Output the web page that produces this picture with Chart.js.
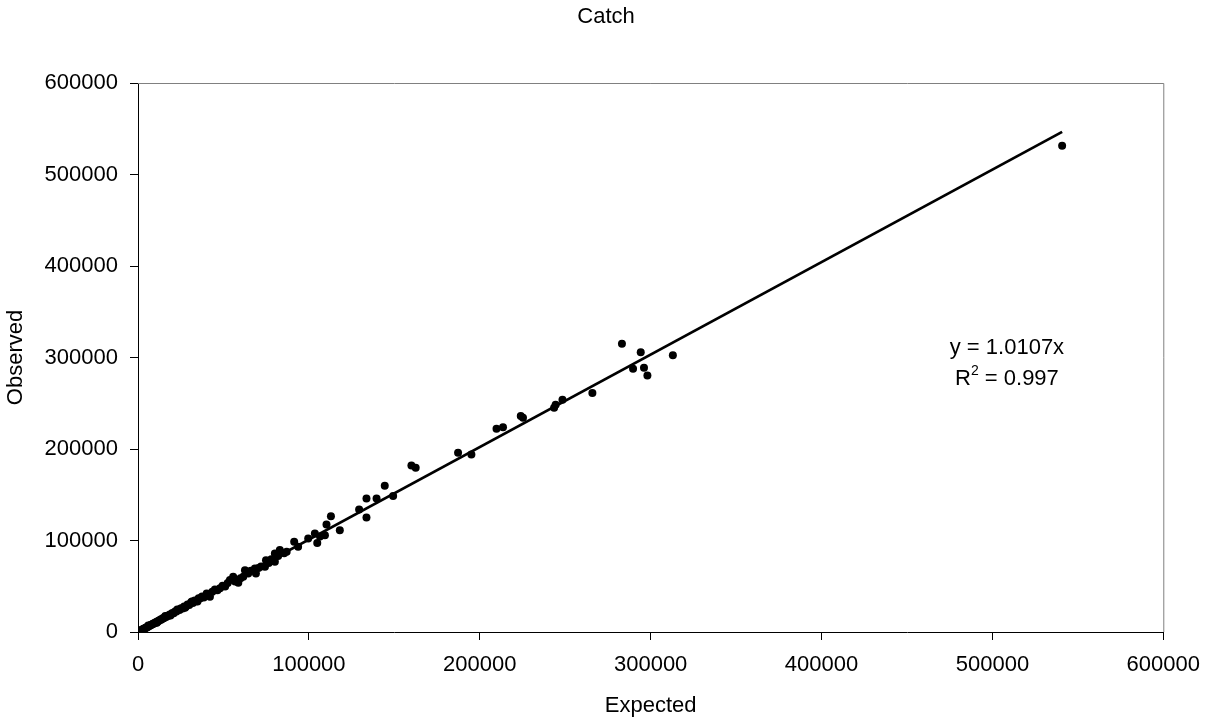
<!DOCTYPE html>
<html>
<head>
<meta charset="utf-8">
<title>Catch</title>
<script src="https://cdn.jsdelivr.net/npm/chart.js@4.4.1/dist/chart.umd.min.js"></script>
<style>
  html, body { margin: 0; padding: 0; background: #ffffff; }
  #wrap { width: 1212px; height: 723px; }
</style>
</head>
<body>
<div id="wrap"><canvas id="grafico" width="1212" height="723"></canvas></div>
<script>
// Valores esperados (eje X) y observados (eje Y) de captura
const expected = [
    0, 400, 700, 1000, 1300, 1700, 2000, 2400, 2700, 3100,
    3400, 3800, 4200, 4600, 5000, 5500, 5900, 6300, 6800, 7200,
    7700, 8200, 8700, 9200, 9800, 10300, 10900, 11400, 12000, 12600,
    13200, 13800, 14500, 15100, 15800, 16500, 17200, 17900, 18600, 19400,
    20100, 20900, 21700, 22500, 23400, 24300, 25200, 26100, 27000, 28000,
    29000, 30000, 31000, 32100, 33200, 34300, 35500, 36300, 37500, 38500,
    40200, 42100, 43500, 45000, 46500, 48000, 49500, 51000, 52500, 53800,
    55700, 56800, 58700, 60000, 61600, 62600, 64500, 66000, 68400, 69000,
    70500, 72000, 74300, 74900, 76500, 78000, 80100, 80100, 82000, 83000,
    85500, 87000, 91400, 93700, 99600, 103500, 104900, 106500, 109400, 110300,
    112900, 118100, 129400, 133700, 133700, 139600, 144400, 149300, 160000, 162500,
    187300, 195100, 209800, 213600, 224000, 225300, 243500, 244400, 248400, 265900,
    283200, 289700, 294200, 296100, 298100, 313000, 540800,
    6000, 11000, 16000, 19000, 23000, 27500, 31500, 34800
];
const observed = [
    0, 300, 800, 900, 1400, 1600, 2200, 2300, 2900, 3000,
    3600, 3700, 4400, 4500, 5200, 5300, 6100, 6200, 7000, 7100,
    8000, 8100, 9000, 9100, 10100, 10200, 11300, 11300, 12300, 12600,
    13700, 13600, 14900, 15100, 16300, 16400, 17700, 17800, 19200, 19300,
    20900, 20600, 22400, 22300, 24200, 24000, 26000, 25800, 27900, 27700,
    30000, 29600, 32200, 31600, 34400, 33700, 36800, 36700, 38900, 37600,
    42200, 38500, 44000, 46500, 45500, 47700, 50500, 49800, 53500, 56700,
    60300, 55200, 53800, 58800, 60300, 67600, 64000, 67000, 69500, 64000,
    70000, 71500, 71200, 78500, 75500, 79500, 76700, 85800, 83000, 89500,
    86000, 87600, 98500, 93100, 102200, 107700, 97400, 104300, 105800, 117500,
    126500, 111300, 133800, 145800, 125100, 145800, 159800, 148500, 182000, 179500,
    196000, 193900, 222200, 223900, 236000, 234200, 245100, 248400, 253900, 261100,
    314900, 287700, 305800, 288800, 280400, 302500, 531300,
    7200, 10000, 17500, 18000, 24600, 26600, 33200, 33400
];

// Línea de tendencia por el origen
const slope = 1.0107;
const rSquared = '0.997';
const trendX = [0, 540800];

const axisTicks = [0, 100000, 200000, 300000, 400000, 500000, 600000];

const titulo = 'Catch';
const fuente = '"Liberation Sans", Arial, sans-serif';
const tamFuente = 22;

const puntos = expected.map((x, i) => ({ x: x, y: observed[i] }));
const tendencia = trendX.map(x => ({ x: x, y: slope * x }));

// Marco gris del área de trazado, título y texto de la ecuación
const marcoPlugin = {
    id: 'marco',
    beforeDatasetsDraw(chart) {
        const { ctx, chartArea: a } = chart;
        ctx.save();
        ctx.strokeStyle = '#808080';
        ctx.lineWidth = 1;
        ctx.beginPath();
        ctx.moveTo(a.left, a.top + 0.5);
        ctx.lineTo(a.right + 0.5, a.top + 0.5);
        ctx.lineTo(a.right + 0.5, a.bottom);
        ctx.stroke();
        ctx.restore();
    },
    afterDraw(chart) {
        const { ctx } = chart;
        const sx = chart.scales.x, sy = chart.scales.y;
        ctx.save();
        ctx.fillStyle = '#000000';
        ctx.font = tamFuente + 'px ' + fuente;
        ctx.textBaseline = 'middle';
        ctx.textAlign = 'center';
        ctx.fillText(titulo, chart.width / 2, 17);

        const cx = sx.getPixelForValue(508500);
        const cy = sy.getPixelForValue(310000);
        ctx.fillText('y = ' + slope + 'x', cx, cy);

        // R² con el 2 como superíndice
        const linea2 = cy + 31;
        const restoTxt = ' = ' + rSquared;
        const wR = ctx.measureText('R').width;
        const wResto = ctx.measureText(restoTxt).width;
        ctx.font = Math.round(tamFuente * 0.62) + 'px ' + fuente;
        const wSup = ctx.measureText('2').width;
        const total = wR + wSup + wResto;
        const x0 = cx - total / 2;
        ctx.textAlign = 'left';
        ctx.font = tamFuente + 'px ' + fuente;
        ctx.fillText('R', x0, linea2);
        ctx.font = Math.round(tamFuente * 0.62) + 'px ' + fuente;
        ctx.fillText('2', x0 + wR, linea2 - 8);
        ctx.font = tamFuente + 'px ' + fuente;
        ctx.fillText(restoTxt, x0 + wR + wSup, linea2);
        ctx.restore();
    }
};

const ejeComun = {
    type: 'linear',
    min: 0,
    max: 600000,
    afterBuildTicks(scale) {
        scale.ticks = axisTicks.map(v => ({ value: v }));
    },
    ticks: {
        color: '#000000',
        font: { family: fuente, size: tamFuente },
        padding: 12,
        callback: v => String(v)
    },
    grid: {
        drawOnChartArea: false,
        drawTicks: true,
        tickLength: 8,
        color: '#000000'
    },
    border: { display: true, color: '#000000', width: 1 }
};

new Chart(document.getElementById('grafico').getContext('2d'), {
    type: 'scatter',
    data: {
        datasets: [
            {
                type: 'line',
                label: 'Tendencia',
                data: tendencia,
                borderColor: '#000000',
                borderWidth: 2.8,
                pointRadius: 0,
                fill: false,
                order: 2
            },
            {
                label: 'Catch',
                data: puntos,
                backgroundColor: '#000000',
                borderWidth: 0,
                pointRadius: 4,
                order: 1
            }
        ]
    },
    options: {
        responsive: false,
        animation: false,
        layout: { padding: { top: 83, right: 48, bottom: 0, left: 0 } },
        plugins: {
            legend: { display: false },
            tooltip: { enabled: false },
            title: { display: false }
        },
        scales: {
            x: Object.assign({}, ejeComun, {
                position: 'bottom',
                title: {
                    display: true,
                    text: 'Expected',
                    color: '#000000',
                    font: { family: fuente, size: tamFuente },
                    padding: { top: 0, bottom: 4 }
                },
                afterFit(scale) { scale.height = 91; }
            }),
            y: Object.assign({}, ejeComun, {
                position: 'left',
                title: {
                    display: true,
                    text: 'Observed',
                    color: '#000000',
                    font: { family: fuente, size: tamFuente },
                    padding: { top: 3, bottom: 0 }
                },
                afterFit(scale) { scale.width = 138; }
            })
        }
    },
    plugins: [marcoPlugin]
});
</script>
</body>
</html>
